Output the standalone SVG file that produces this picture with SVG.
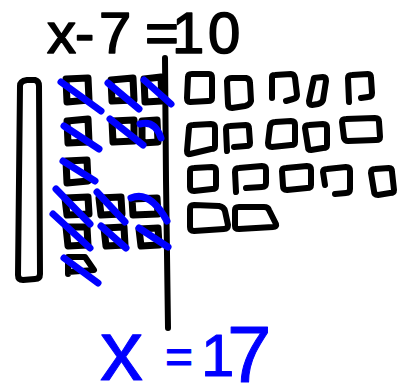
<svg xmlns="http://www.w3.org/2000/svg" width="398" height="390" viewBox="0 0 398 390">
<style>
.k{fill:none;stroke:#000;stroke-width:6;stroke-linecap:round;stroke-linejoin:round}
.u{fill:none;stroke:#000;stroke-width:7;stroke-linecap:round;stroke-linejoin:round}
.b{fill:none;stroke:#0000ff;stroke-width:7;stroke-linecap:round;stroke-linejoin:round}
.t{font-family:"Liberation Sans",Arial,sans-serif;fill:#000;stroke:#000;stroke-width:1.6;stroke-linejoin:round}
.tb{font-family:"Liberation Sans",Arial,sans-serif;fill:#0000ff;stroke:#0000ff;stroke-width:1;stroke-linejoin:round}
</style>
<rect width="398" height="390" fill="#fff"/>
<g id="equation">
<text class="t" font-size="58" y="53" x="47 75 99 145 172 208">x-7=10</text>
</g>
<g id="x-tile">
<path class="k" d="M20 86 Q20 81 27 80 L35 80 Q39 81 39 86 L40 274 Q40 279 35 279 L23 280 Q18 280 18 275 Z"/>
</g>
<g id="divider">
<path class="k" d="M165 58 L166 180 L168 328"/>
</g>
<g id="left-units">
<path class="u" d="M66 79 L88 78 L89 100 L67 102 Z"/>
<path class="u" d="M111 80 L133 78 L134 100 L112 101 Z"/>
<path class="u" d="M144 79 L161 77 L162 101 L145 102 Z"/>
<path class="u" d="M67 121 L88 119 L89 142 L68 143 Z"/>
<path class="u" d="M112 121 L134 120 L134 141 L113 142 Z"/>
<path class="u" d="M142 121 L157 120 L158 142 L142 143 Z"/>
<path class="u" d="M66 161 L87 160 L88 181 L67 183 Z"/>
<path class="u" d="M65 198 L88 197 L89 214 L67 215 Z"/>
<path class="u" d="M99 198 L121 197 L122 214 L101 215 Z"/>
<path class="u" d="M132 199 L157 198 L158 214 L133 215 Z"/>
<path class="u" d="M66 227 L87 227 L88 245 L68 246 Z"/>
<path class="u" d="M104 228 L124 227 L125 245 L106 246 Z"/>
<path class="u" d="M139 229 L158 228 L159 245 L141 246 Z"/>
<path class="k" d="M68 274 L68 257 L85 257 L94 270 L68 272"/>
</g>
<g id="right-units">
<path class="k" d="M188 77 Q188 74 192 74 L209 74 Q212 74 212 78 L212 98 Q212 101 208 101 L190 102 Q187 102 187 98 Z"/>
<path class="k" d="M227 81 Q228 78 232 78 L246 78 Q250 79 250 83 L251 101 Q250 105 245 106 L232 108 Q228 108 228 104 Z"/>
<path class="k" d="M272 98 L272 77 Q272 75 275 75 L291 74 Q294 74 295 78 L297 95 Q297 98 293 99 L286 101"/>
<path class="k" d="M314 78 L323 77 Q326 77 326 81 L323 100 Q322 103 318 104 L312 105 Q309 105 309 101 Z"/>
<path class="k" d="M349 102 L348 78 Q348 75 352 75 L368 74 Q371 74 371 78 L372 93 Q372 97 368 97 L361 98"/>
<path class="k" d="M189 128 Q189 125 193 125 L211 124 Q215 124 215 128 L215 146 Q215 149 211 149 L190 154 Q187 155 187 151 Z"/>
<path class="k" d="M227 151 L226 129 Q226 126 230 126 L246 125 Q249 125 249 129 L250 143 Q250 146 246 146 L234 147"/>
<path class="k" d="M270 126 Q271 122 275 122 L291 121 Q295 121 295 125 L295 142 Q295 145 291 145 L272 147 Q268 147 268 143 Z"/>
<path class="k" d="M305 128 Q305 125 309 125 L323 124 Q327 124 327 128 L327 145 Q327 148 323 148 L311 150 Q308 150 308 147 Z"/>
<path class="k" d="M342 122 Q342 119 346 119 L375 118 Q379 118 379 122 L380 137 Q380 140 376 140 L348 141 Q345 141 344 138 Z"/>
<path class="k" d="M190 171 Q190 168 194 168 L212 167 Q216 167 216 171 L216 186 Q216 189 212 189 L194 191 Q190 191 190 187 Z"/>
<path class="k" d="M236 192 L235 172 Q235 168 239 168 L262 166 Q266 166 266 170 L266 183 Q266 187 262 187 L246 188"/>
<path class="k" d="M282 171 Q282 168 286 168 L307 166 Q311 166 311 170 L311 185 Q311 188 307 188 L287 190 Q283 190 283 186 Z"/>
<path class="k" d="M325 185 L323 172 Q323 169 327 169 L346 167 Q350 167 350 171 L350 189 Q350 193 346 193 L335 194"/>
<path class="k" d="M371 173 Q371 169 375 169 L389 168 Q392 168 392 172 L394 190 Q394 193 390 193 L378 195 Q374 195 374 191 Z"/>
<path class="k" d="M190 209 Q190 205 194 205 L219 206 Q224 207 225 211 L228 225 Q228 229 224 229 L194 231 Q190 231 190 227 Z"/>
<path class="k" d="M235 210 Q235 207 239 207 L264 207 Q268 207 269 210 L276 224 Q277 227 273 227 L239 229 Q235 229 235 226 Z"/>
</g>
<g id="strikes">
<path class="b" d="M61 82 L101 111"/>
<path class="b" d="M108 83 L139 109"/>
<path class="b" d="M144 80 L171 104"/>
<path class="b" d="M64 126 L99 149"/>
<path class="b" d="M110 119 L143 145"/>
<path class="b" d="M140 124 Q155 120 161 138"/>
<path class="b" d="M63 161 L95 181"/>
<path class="b" d="M56 189 L90 224"/>
<path class="b" d="M97 192 L125 222"/>
<path class="b" d="M131 198 Q150 190 167 221"/>
<path class="b" d="M53 214 L90 248"/>
<path class="b" d="M101 226 L126 248"/>
<path class="b" d="M139 228 L168 247"/>
<path class="b" d="M64 258 L98 283"/>
</g>
<g id="answer">
<text class="tb" font-size="80" y="380"><tspan x="100" font-size="86">x</tspan><tspan x="165" y="373" font-size="48">=</tspan><tspan x="201" y="376" font-size="60">1</tspan><tspan x="227" y="382">7</tspan></text>
</g>
</svg>
